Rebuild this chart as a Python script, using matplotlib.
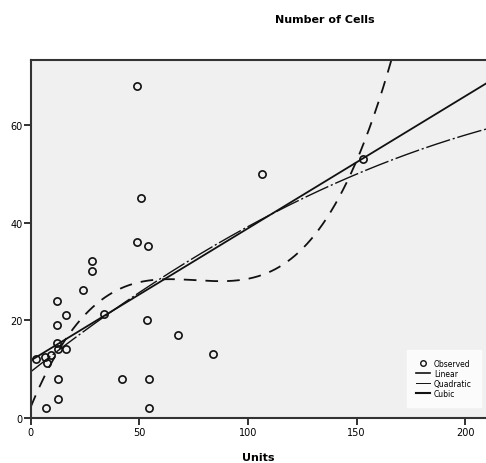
import numpy as np
import matplotlib
matplotlib.use("Agg")
import matplotlib.pyplot as plt
from matplotlib.lines import Line2D

units = [48.9, 50.9, 48.9, 54.0, 28.2, 28.2, 24.1, 12.2, 16.3, 12.2,
         53.5, 67.6, 83.8, 12.3, 12.4, 16.4, 9.5, 2.4, 6.6, 7.4,
         12.4, 42.1, 54.3, 12.4, 7.2, 54.3, 106.5, 153.1, 33.6]
cells = [67.8, 45.0, 36.1, 35.3, 32.1, 30.0, 26.2, 24.0, 21.2, 19.1,
         20.1, 17.1, 13.1, 15.3, 14.2, 14.2, 13.0, 12.1, 12.5, 11.3,
         8.1, 8.1, 8.1, 4.0, 2.1, 2.1, 50.0, 53.0, 21.4]

# Fitted model coefficients (constant, x, x^2, x^3)
linear_coef = [11.8, 0.270]
quadratic_coef = [9.5, 0.3514, -0.000548]
cubic_coef = [2.3, 1.07934, -0.0146, 6.4267e-5]

x_ticks = [0, 50, 100, 150, 200]
y_ticks = [0, 20, 40, 60]


def model(coef, xv):
    return sum(c * xv ** i for i, c in enumerate(coef))


W, H = 486, 464
fig = plt.figure(figsize=(W / 100, H / 100), dpi=100)
ax = fig.add_axes([30.7 / W, 1 - 419.3 / H, (486 - 30.7) / W, (419.3 - 61) / H])
ax.set_facecolor("#f0f0f0")
ax.set_xlim(0, 209.6)
ax.set_ylim(0, 73.2)

xs = np.linspace(0, 209.6, 800)
ax.plot(units, cells, linestyle="none", marker="o", ms=5.2, mfc="none", mec="#111111", mew=1.2, zorder=5)
ax.plot(xs, model(linear_coef, xs), color="#111111", lw=1.3)
ax.plot(xs, model(quadratic_coef, xs), color="#111111", lw=1.0, dashes=(18, 2, 1.5, 2))
ax.plot(xs, model(cubic_coef, xs), color="#111111", lw=1.3, dashes=(7, 5))

ax.spines["right"].set_visible(False)
for s in ["left", "top", "bottom"]:
    ax.spines[s].set_linewidth(1.5)
    ax.spines[s].set_color("#333333")

ax.set_xticks(x_ticks)
ax.set_yticks(y_ticks)
ax.tick_params(direction="out", length=5, width=1.3, color="#222222", labelsize=7, pad=1)

ax.set_xlabel("Units", fontsize=8, fontweight="bold", labelpad=11)
fig.text(325 / W, 1 - 20 / H, "Number of Cells", ha="center", va="center", fontsize=8, fontweight="bold")

handles = [
    Line2D([], [], linestyle="none", marker="o", ms=4, mfc="none", mec="#111111", mew=1.0),
    Line2D([], [], color="#111111", lw=1.2),
    Line2D([], [], color="#111111", lw=0.7),
    Line2D([], [], color="#111111", lw=1.5),
]
leg = ax.legend(handles, ["Observed", "Linear", "Quadratic", "Cubic"], loc="lower right",
                bbox_to_anchor=(0.997, 0.02), fontsize=5.5, frameon=True, fancybox=False,
                handlelength=1.8, handletextpad=0.5, labelspacing=0.15, borderpad=1.2)
leg.get_frame().set_facecolor("white")
leg.get_frame().set_edgecolor("white")

fig.savefig("out.png", dpi=100)
